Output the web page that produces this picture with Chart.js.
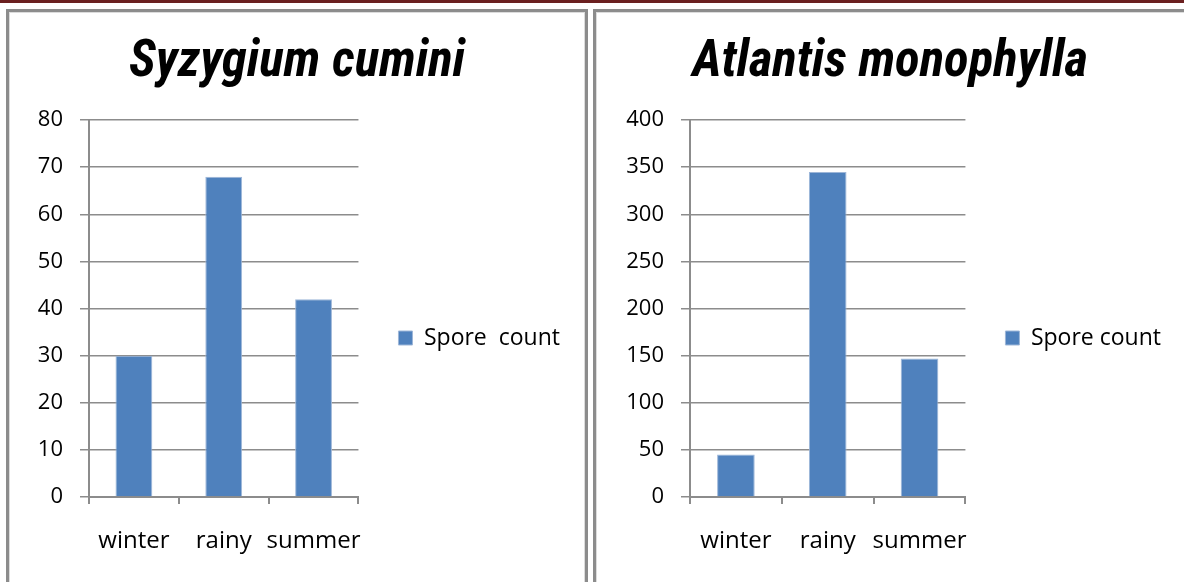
<!DOCTYPE html>
<html>
<head>
<meta charset="utf-8">
<script src="https://cdn.jsdelivr.net/npm/chart.js@4/dist/chart.umd.min.js"></script>
<style>
    body { margin: 0; width: 1184px; height: 582px; background: #fff; overflow: hidden; position: relative; }
    .topline { position: absolute; left: 0; top: 0; width: 1184px; height: 3px; background: #6b2020; }
    .panel { position: absolute; top: 9px; height: 600px; box-sizing: border-box; border: 3px solid #8c8c8c; box-shadow: inset 0 0 0 1px #dcdcdc; }
    .panel canvas { position: absolute; left: 0; top: 0; }
</style>
</head>
<body>
<div class="topline"></div>
<div class="panel" style="left:6px; width:582px;">
    <canvas id="chart1" width="576" height="570"></canvas>
</div>
<div class="panel" style="left:593px; width:620px;">
    <canvas id="chart2" width="588" height="570"></canvas>
</div>
<script>
const categories = ['winter', 'rainy', 'summer'];
const cuminiValues = [30, 68, 42];
const monophyllaValues = [45, 345, 147];
const cuminiTicks = [0, 10, 20, 30, 40, 50, 60, 70, 80];
const monophyllaTicks = [0, 50, 100, 150, 200, 250, 300, 350, 400];

const bodyFont = "'Open Sans', 'Noto Sans', sans-serif";
const titleFont = "'Liberation Sans Narrow', 'Roboto Condensed', Roboto, sans-serif";
const legendSize = 23;
const legendPad = 40;

function makeChart(id, title, label, values, ticks, yWidth, plotRight) {
    const canvas = document.getElementById(id);
    const context = canvas.getContext('2d');

    // legend sits right after the plot, so pad the rest away
    // (same padding on the left keeps the title centred in the panel)
    context.font = legendSize + 'px ' + bodyFont;
    const legendWidth = 14 + legendSize / 2 + context.measureText(label).width + legendPad + 10;
    const sidePad = Math.max(0, Math.floor(canvas.width - plotRight - legendWidth));

    return new Chart(context, {
        type: 'bar',
        data: {
            labels: categories,
            datasets: [{
                label: label,
                data: values,
                backgroundColor: '#4f81bd',
                borderColor: '#9db6d8',
                borderWidth: 1,
                barPercentage: 0.41,
                categoryPercentage: 1
            }]
        },
        options: {
            responsive: false,
            animation: false,
            layout: { padding: { left: sidePad, right: sidePad, top: 0, bottom: 0 } },
            plugins: {
                title: {
                    display: true,
                    text: title,
                    color: '#000',
                    font: { family: titleFont, size: 51, weight: 'bold', style: 'italic', lineHeight: 1.1 },
                    padding: { top: 23, bottom: 29 }
                },
                legend: {
                    position: 'right',
                    maxWidth: 400,
                    title: {
                        display: true,
                        text: ' ',
                        color: 'rgba(0,0,0,0)',
                        font: { size: 10, lineHeight: 1.2 },
                        padding: { top: 35, bottom: 35 }
                    },
                    labels: {
                        boxWidth: 14,
                        boxHeight: 14,
                        padding: legendPad,
                        color: '#000',
                        font: { family: bodyFont, size: legendSize }
                    }
                },
                tooltip: { enabled: false }
            },
            scales: {
                x: {
                    offset: true,
                    afterFit: (scale) => { scale.height = 85; },
                    grid: { drawOnChartArea: false, offset: true, tickLength: 7, color: '#8c8c8c', lineWidth: 2 },
                    border: { color: '#8c8c8c', width: 2 },
                    ticks: { color: '#000', padding: 23, autoSkip: false, maxRotation: 0, minRotation: 0, font: { family: bodyFont, size: 24 } }
                },
                y: {
                    min: ticks[0],
                    max: ticks[ticks.length - 1],
                    afterFit: (scale) => { scale.width = yWidth - sidePad; },
                    afterBuildTicks: (scale) => { scale.ticks = ticks.map(v => ({ value: v })); },
                    grid: { tickLength: 9, color: '#8c8c8c', lineWidth: 1.5 },
                    border: { color: '#8c8c8c', width: 2 },
                    ticks: { color: '#000', padding: 17, font: { family: bodyFont, size: 22 } }
                }
            }
        }
    });
}

makeChart('chart1', 'Syzygium cumini', 'Spore  count', cuminiValues, cuminiTicks, 80, 349);
makeChart('chart2', 'Atlantis monophylla', 'Spore count', monophyllaValues, monophyllaTicks, 94, 369);
</script>
</body>
</html>
